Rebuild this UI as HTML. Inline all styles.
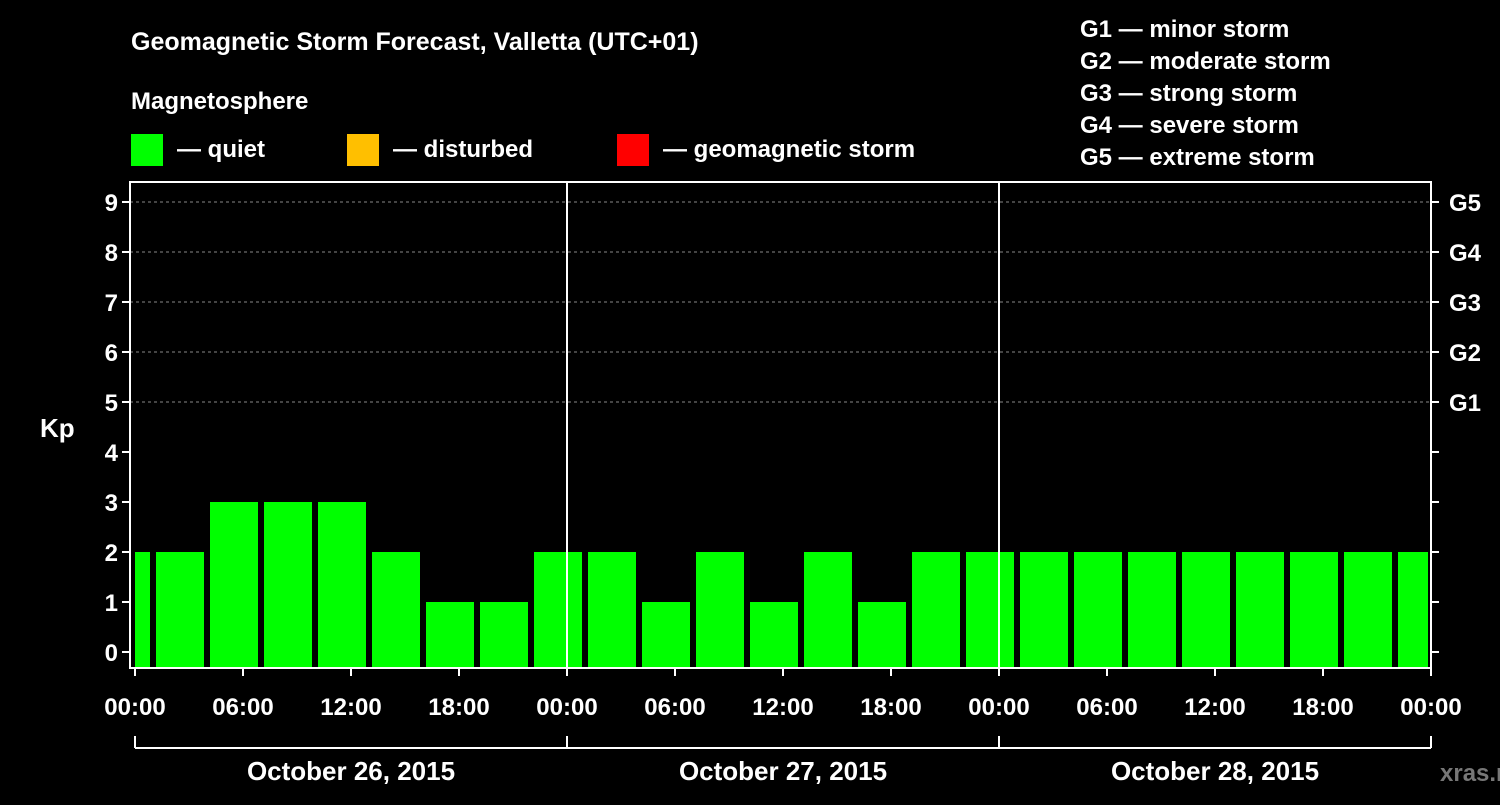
<!DOCTYPE html>
<html><head><meta charset="utf-8"><style>
body{margin:0;background:#000;width:1500px;height:800px;overflow:hidden}
svg text{font-family:"Liberation Sans",Arial,sans-serif;font-weight:bold;fill:#fff}
</style></head><body>
<svg id="c" width="1500" height="800">
<text x="131" y="50" font-size="25">Geomagnetic Storm Forecast, Valletta (UTC+01)</text>
<text x="131" y="109" font-size="24">Magnetosphere</text>
<rect x="131" y="134" width="32" height="32" fill="#00ff00"/>
<text x="177" y="157" font-size="24">— quiet</text>
<rect x="347" y="134" width="32" height="32" fill="#ffbf00"/>
<text x="393" y="157" font-size="24">— disturbed</text>
<rect x="617" y="134" width="32" height="32" fill="#ff0000"/>
<text x="663" y="157" font-size="24">— geomagnetic storm</text>
<g font-size="24">
<text x="1080" y="37">G1 — minor storm</text>
<text x="1080" y="69">G2 — moderate storm</text>
<text x="1080" y="101">G3 — strong storm</text>
<text x="1080" y="133">G4 — severe storm</text>
<text x="1080" y="165">G5 — extreme storm</text>
</g>
<text x="40" y="437" font-size="26">Kp</text>
<text x="1440" y="781" font-size="24" fill="#888" style="fill:#777">xras.ru</text>
<g id="plot"></g>
</svg>
<script>
const kpValues=[2,2,3,3,3,2,1,1,2,2,1,2,1,2,1,2,2,2,2,2,2,2,2,2,2];
const dayLabels=["October 26, 2015","October 27, 2015","October 28, 2015"];
const hourLabels=["00:00","06:00","12:00","18:00"];
const gLabels=["G1","G2","G3","G4","G5"];
const X0=135,DAY=432,Y0=652,UNIT=50,TOP=182,BOT=668,LEFT=130,RIGHT=1431;
const xH=h=>X0+h*DAY/24;
const yK=k=>Y0-k*UNIT;
const g=document.getElementById('plot');
const NS='http://www.w3.org/2000/svg';
function mk(t,a){const e=document.createElementNS(NS,t);for(const k in a)e.setAttribute(k,a[k]);g.appendChild(e);return e;}
// grid
for(let k=5;k<=9;k++){const l=mk('line',{x1:LEFT,x2:RIGHT,y1:yK(k),y2:yK(k),stroke:'#888','stroke-dasharray':'3,3','stroke-width':1});

}
// bars
kpValues.forEach((v,i)=>{const s=-2+3*i;let x1=xH(s)+3,x2=xH(s+3)-3;x1=Math.max(x1,X0);x2=Math.min(x2,RIGHT-3);
const col=v>=5?'#ff0000':(v>=4?'#ffbf00':'#00ff00');
const r=mk('rect',{x:x1,y:yK(v),width:x2-x1,height:BOT-yK(v),fill:col});

});
// frame
const f=mk('rect',{x:LEFT,y:TOP,width:RIGHT-LEFT,height:BOT-TOP,fill:'none',stroke:'#fff','stroke-width':2});


for(let d=1;d<3;d++){const l=mk('line',{x1:xH(24*d),x2:xH(24*d),y1:TOP,y2:BOT,stroke:'#fff','stroke-width':2});

}
// y ticks
for(let k=0;k<=9;k++){mk('line',{x1:LEFT-8,x2:LEFT,y1:yK(k),y2:yK(k),stroke:'#fff','stroke-width':2});
mk('line',{x1:RIGHT,x2:RIGHT+8,y1:yK(k),y2:yK(k),stroke:'#fff','stroke-width':2});
const t=mk('text',{x:LEFT-12,y:yK(k)+9,'font-size':24,'text-anchor':'end'});t.textContent=k;

}
gLabels.forEach((s,i)=>{const t=mk('text',{x:RIGHT+18,y:yK(5+i)+9,'font-size':24});t.textContent=s;

});
// x ticks
for(let h=0;h<=72;h+=6){const x=xH(h);mk('line',{x1:x,x2:x,y1:BOT,y2:BOT+8,stroke:'#fff','stroke-width':2});
const t=mk('text',{x:x,y:715,'font-size':24,'text-anchor':'middle'});t.textContent=hourLabels[(h/6)%4];

}
mk('line',{x1:X0,x2:RIGHT,y1:748,y2:748,stroke:'#fff','stroke-width':2});
for(let d=0;d<=3;d++)mk('line',{x1:xH(24*d),x2:xH(24*d),y1:736,y2:748,stroke:'#fff','stroke-width':2});
dayLabels.forEach((s,i)=>{const t=mk('text',{x:xH(24*i+12),y:780,'font-size':26,'text-anchor':'middle'});t.textContent=s;

});
</script>
</body></html>
